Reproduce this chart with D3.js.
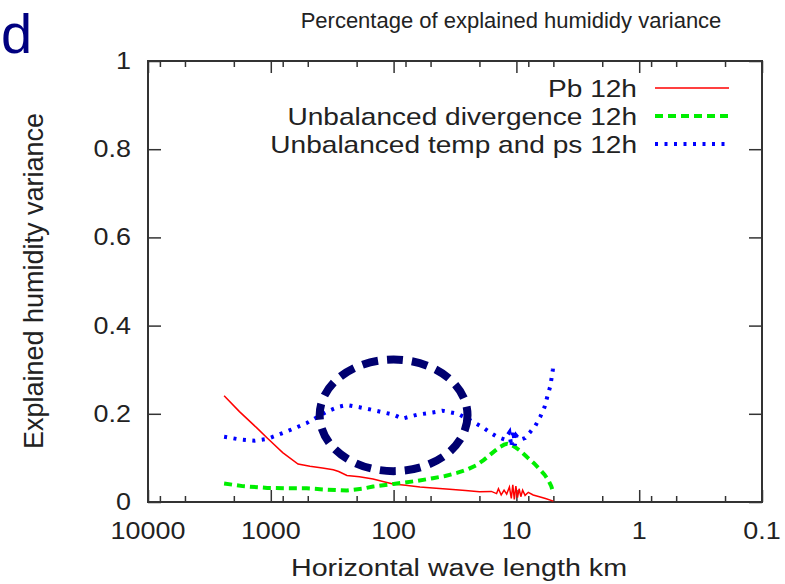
<!DOCTYPE html>
<html>
  <head>
    <script type="text/javascript" src="https://cdn.jsdelivr.net/npm/d3@7"></script>
    <style>
      body { margin: 0; background: #fff; }
      text { font-family: "Liberation Sans", Arial, sans-serif; fill: #222; }
    </style>
  </head>
<body>
  <script type="text/javascript">
    var w = 785;
    var h = 584;
    var margin = {top: 61, bottom: 82, right: 23, left: 148};

    // x = horizontal wave length (km), y = explained humidity variance
    var majorTicks = [10000, 1000, 100, 10, 1, 0.1];
    var majorLabels = ["10000", "1000", "100", "10", "1", "0.1"];
    var minorTicks = [8000, 5000, 2000, 800, 500, 200, 80, 50, 20, 8, 5, 2, 0.8, 0.5, 0.2];
    var yTicks = [0, 0.2, 0.4, 0.6, 0.8, 1];
    var yLabels = ["0", "0.2", "0.4", "0.6", "0.8", "1"];

    var seriesNames = ["Pb 12h", "Unbalanced divergence 12h", "Unbalanced temp and ps 12h"];

    var pb12h = [
      [2400, 0.241], [1800, 0.205], [1300, 0.168], [1070, 0.145], [800, 0.112], [600, 0.086],
      [480, 0.081], [380, 0.077], [310, 0.073], [280, 0.069], [240, 0.060], [190, 0.057],
      [147, 0.052], [120, 0.046], [101, 0.041], [80, 0.038], [61, 0.034], [48, 0.032],
      [35, 0.029], [26, 0.026], [20, 0.023], [16, 0.024], [14.5, 0.019], [14, 0.03],
      [13.3, 0.016], [12.6, 0.027], [12, 0.018], [11.4, 0.034], [11, 0.008], [10.7, 0.039],
      [10.4, 0.006], [10.1, 0.036], [9.8, 0.01], [9.5, 0.03], [9.2, 0.012], [8.9, 0.027],
      [8.5, 0.015], [8, 0.022], [7.3, 0.016], [6.5, 0.012], [5.8, 0.008], [5, 0.002]
    ];

    var div12h = [
      [2400, 0.042], [1700, 0.036], [1070, 0.032], [700, 0.031], [510, 0.031], [350, 0.028],
      [240, 0.026], [180, 0.030], [147, 0.035], [100, 0.041], [64, 0.048], [48, 0.054],
      [38, 0.059], [30.5, 0.066], [25, 0.074], [21, 0.084], [18.5, 0.095], [16.4, 0.107],
      [14.8, 0.117], [13.6, 0.125], [12.6, 0.13], [11.9, 0.132], [11.1, 0.13], [10.3, 0.125],
      [9.2, 0.115], [8.2, 0.102], [7.2, 0.088], [6.4, 0.073], [5.9, 0.062], [5.5, 0.05],
      [5.2, 0.036], [5, 0.020]
    ];

    var temp12h = [
      [2400, 0.148], [1800, 0.142], [1350, 0.139], [1070, 0.143], [740, 0.160], [510, 0.179],
      [350, 0.205], [280, 0.216], [240, 0.220], [190, 0.215], [150, 0.209], [100, 0.198],
      [85, 0.189], [64, 0.198], [48, 0.203], [40, 0.207], [30, 0.200], [24, 0.186],
      [19, 0.170], [16.5, 0.158], [14.4, 0.148], [12.5, 0.142], [11.4, 0.158], [11, 0.125],
      [10.6, 0.162], [10.3, 0.128], [10, 0.150], [9.4, 0.141], [8.5, 0.145], [7.8, 0.157],
      [7, 0.173], [6.4, 0.193], [5.9, 0.215], [5.6, 0.239], [5.3, 0.262], [5.15, 0.284],
      [5.05, 0.300], [5, 0.317]
    ];

    // annotation ellipse bounds (wave length and variance)
    var ringLen = [400, 25];
    var ringVal = [0.07, 0.323];

    var colors = ["#ff0000", "#00ee00", "#0000ff"];
    var widths = [1.5, 4, 4];
    var dashes = [null, "8,5", "3,6.5"];

    var sx = 1.17; // horizontal stretch of the lettering

    var svg = d3.select("body")
      .append("svg")
      .attr("width", w)
      .attr("height", h);

    var xScale = d3.scaleLog()
      .domain([10000, 0.1])
      .range([margin.left, w - margin.right]);

    var yScale = d3.scaleLinear()
      .domain([0, 1])
      .range([h - margin.bottom, margin.top]);

    var x0 = margin.left, x1 = w - margin.right;
    var y0 = h - margin.bottom, y1 = margin.top;

    function label(x, y, txt, size, anchor, stretch) {
      return svg.append("text")
        .attr("transform", "translate(" + x + "," + y + ") scale(" + (stretch || sx) + ",1)")
        .attr("text-anchor", anchor)
        .attr("font-size", size)
        .text(txt);
    }

    // ticks on all four sides, pointing inward
    svg.append("g")
      .attr("transform", "translate(0," + y0 + ")")
      .call(d3.axisBottom(xScale).tickValues(majorTicks).tickSize(-12).tickFormat(""));
    svg.append("g")
      .attr("transform", "translate(0," + y0 + ")")
      .call(d3.axisBottom(xScale).tickValues(minorTicks).tickSize(-6).tickFormat(""));
    svg.append("g")
      .attr("transform", "translate(0," + y1 + ")")
      .call(d3.axisTop(xScale).tickValues(majorTicks).tickSize(-12).tickFormat(""));
    svg.append("g")
      .attr("transform", "translate(0," + y1 + ")")
      .call(d3.axisTop(xScale).tickValues(minorTicks).tickSize(-6).tickFormat(""));
    svg.append("g")
      .attr("transform", "translate(" + x0 + ",0)")
      .call(d3.axisLeft(yScale).tickValues(yTicks).tickSize(-13).tickFormat(""));
    svg.append("g")
      .attr("transform", "translate(" + x1 + ",0)")
      .call(d3.axisRight(yScale).tickValues(yTicks).tickSize(-13).tickFormat(""));

    svg.selectAll(".domain").remove();
    svg.selectAll(".tick line").attr("stroke", "#333").attr("stroke-width", 1.5);

    svg.append("rect")
      .attr("x", x0)
      .attr("y", y1)
      .attr("width", x1 - x0)
      .attr("height", y0 - y1)
      .attr("fill", "none")
      .attr("stroke", "#333")
      .attr("stroke-width", 2);

    majorTicks.forEach(function (t, i) {
      label(xScale(t), y0 + 37, majorLabels[i], 23, "middle");
    });
    yTicks.forEach(function (t, i) {
      label(x0 - 17, yScale(t) + 8, yLabels[i], 23, "end");
    });

    // series
    var line = d3.line()
      .x(function (d) { return xScale(d[0]); })
      .y(function (d) { return yScale(d[1]); });

    [pb12h, div12h, temp12h].forEach(function (s, i) {
      svg.append("path")
        .datum(s)
        .attr("d", line)
        .attr("fill", "none")
        .attr("stroke", colors[i])
        .attr("stroke-width", widths[i])
        .attr("stroke-dasharray", dashes[i]);
    });

    // legend
    seriesNames.forEach(function (n, i) {
      var ly = 88 + i * 28;
      label(637, ly + 8.5, n, 24, "end");
      svg.append("line")
        .attr("x1", 655)
        .attr("x2", 729)
        .attr("y1", ly)
        .attr("y2", ly)
        .attr("stroke", colors[i])
        .attr("stroke-width", i == 0 ? 1.5 : 4)
        .attr("stroke-dasharray", dashes[i]);
    });

    // dashed ring
    var rl = xScale(ringLen[0]), rr = xScale(ringLen[1]);
    var rb = yScale(ringVal[0]), rt = yScale(ringVal[1]);
    svg.append("ellipse")
      .attr("cx", (rl + rr) / 2)
      .attr("cy", (rb + rt) / 2)
      .attr("rx", (rr - rl) / 2)
      .attr("ry", (rb - rt) / 2)
      .attr("fill", "none")
      .attr("stroke", "#000070")
      .attr("stroke-width", 8)
      .attr("stroke-dasharray", "16,9");

    // titles
    label(511, 28, "Percentage of explained humididy variance", 22, "middle", 1);
    label(459, 576, "Horizontal wave length km", 24.5, "middle");
    svg.append("text")
      .attr("transform", "translate(43,281) rotate(-90)")
      .attr("text-anchor", "middle")
      .attr("font-size", 27)
      .text("Explained humidity variance");

    svg.append("text")
      .attr("x", 1)
      .attr("y", 53)
      .attr("font-size", 56)
      .style("fill", "#000080")
      .text("d");
  </script>
</body>
</html>
